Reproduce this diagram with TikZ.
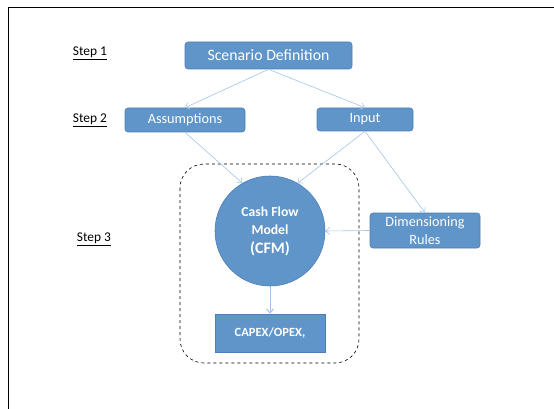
\documentclass[tikz,border=0pt]{standalone}
\usepackage{fontspec}
\setmainfont{Carlito}
\usetikzlibrary{arrows.meta}
\definecolor{boxfill}{HTML}{6095C9}
\definecolor{boxdraw}{HTML}{4A7EB5}
\definecolor{arrowc}{HTML}{A3C4E6}
\begin{document}
\begin{tikzpicture}[x=1pt,y=-1pt,
  bluebox/.style={draw=boxdraw, line width=0.6pt, fill=boxfill, rounded corners=3pt, text=white, inner sep=0pt, align=center},
  steplabel/.style={font=\fontsize{13.4}{15}\selectfont, inner sep=0pt},
  conn/.style={draw=arrowc, line width=0.6pt, -{Straight Barb[length=4pt,width=7pt]}}]
\useasboundingbox (0,0) rectangle (554,409);
\draw[line width=1pt] (8,7.5) -- (554,7.5);
\draw[line width=1pt] (8.5,7) -- (8.5,409);

\node[steplabel] (s1) at (90,53) {\underline{Step 1}};
\node[steplabel] (s2) at (90,120) {\underline{Step 2}};
\node[steplabel] (s3) at (94,239) {\underline{Step 3}};

\node[bluebox, minimum width=167pt, minimum height=27pt, font=\fontsize{15.8}{18}\selectfont] (scen) at (268.5,55.5) {Scenario Definition};
\node[bluebox, minimum width=120pt, minimum height=24pt, font=\fontsize{14.3}{16}\selectfont] (assum) at (185,120) {Assumptions};
\node[bluebox, minimum width=96pt, minimum height=23pt, font=\fontsize{14.3}{16}\selectfont] (input) at (365,119.5) {Input};
\node[bluebox, minimum width=110pt, minimum height=35pt, font=\fontsize{14.2}{17.5}\selectfont] (dim) at (425,230.5) {Dimensioning\\Rules};

\draw[black, dashed, line width=0.6pt, rounded corners=24pt] (180,164) rectangle (359,363);

\node[circle, draw=boxdraw, line width=0.6pt, fill=boxfill, minimum size=110pt, inner sep=0pt, text=white, align=center, font=\bfseries\fontsize{13.7}{18.5}\selectfont] (cfm) at (270,231)
  {Cash Flow\\Model\\{\fontsize{16}{18.5}\selectfont (CFM)}};
\node[draw=boxdraw, line width=0.6pt, fill=boxfill, minimum width=110pt, minimum height=38pt, inner sep=0pt, text=white, font=\bfseries\fontsize{12.5}{15}\selectfont] (capex) at (270,333) {CAPEX/OPEX,};

\draw[conn] (scen.south) -- (assum.north);
\draw[conn] (scen.south) -- (input.north);
\draw[conn] (assum.south) -- (cfm.120);
\draw[conn] (input.south) -- (cfm.60);
\draw[conn] (input.south) -- (dim.north);
\draw[conn] (dim.west) -- (cfm.east);
\draw[conn, line width=1pt] (cfm.south) -- (capex.north);
\end{tikzpicture}
\end{document}
